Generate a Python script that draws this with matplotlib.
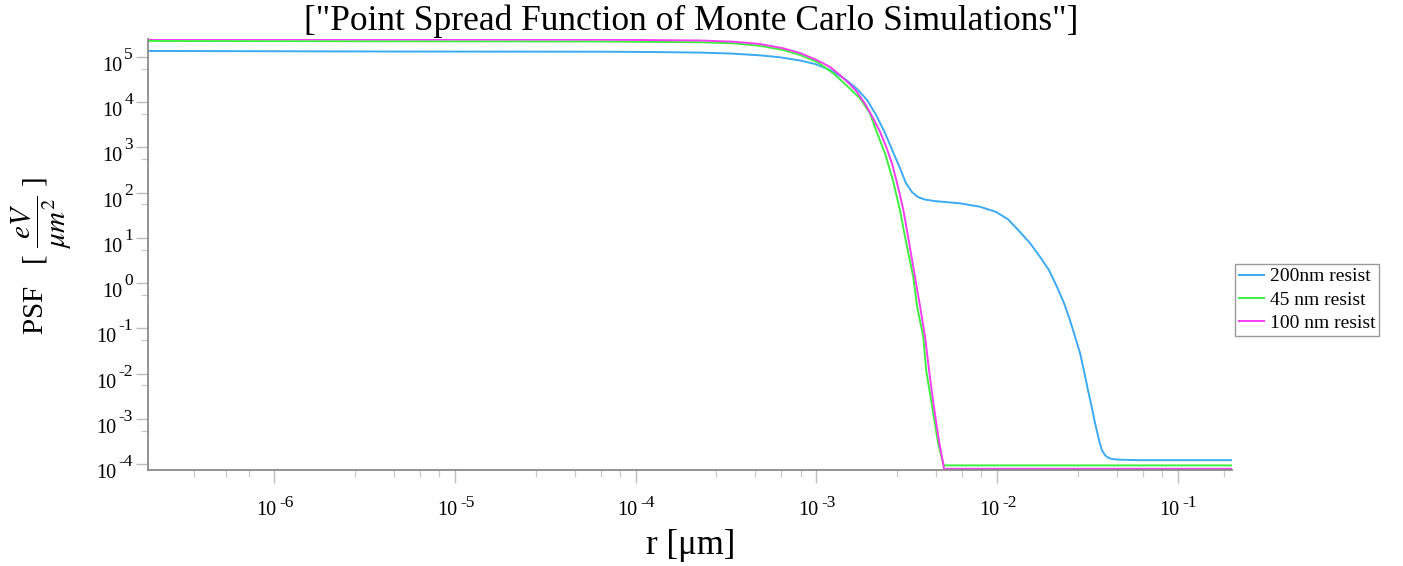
import matplotlib
matplotlib.use("Agg")
import matplotlib.pyplot as plt
import matplotlib.transforms as mtransforms
from matplotlib.ticker import NullFormatter

plt.rcParams['font.family'] = ['Liberation Serif', 'DejaVu Serif']
plt.rcParams['mathtext.fontset'] = 'stix'

# ---------------- data ----------------
r_200 = [2.0e-7, 4.97e-6, 6.35e-5, 1.202e-4, 2.27e-4, 3.327e-4, 4.876e-4, 6.295e-4,
         8.128e-4, 9.85e-4, 1.193e-3, 1.443e-3, 1.683e-3, 1.91e-3, 2.143e-3, 2.402e-3,
         2.66e-3, 2.904e-3, 3.134e-3, 3.388e-3, 3.656e-3, 3.996e-3, 4.54e-3, 6.24e-3,
         8.05e-3, 9.89e-3, 1.151e-2, 1.306e-2, 1.524e-2, 1.730e-2, 1.941e-2, 2.148e-2,
         2.35e-2, 2.535e-2, 2.70e-2, 2.884e-2, 3.034e-2, 3.19e-2, 3.357e-2, 3.49e-2,
         3.673e-2, 3.81e-2, 3.96e-2, 4.12e-2, 4.34e-2, 4.80e-2, 6.19e-2, 0.2]
psf_200 = [1.36e5, 1.32e5, 1.31e5, 1.29e5, 1.251e5, 1.195e5, 1.09e5, 9.84e4,
           8.37e4, 7.0e4, 5.16e4, 3.26e4, 1.96e4, 1.12e4, 5.21e3, 2.08e3,
           792, 350, 163, 103, 80, 70.4, 65.2, 58.2,
           49.0, 37.5, 25.8, 15.2, 7.69, 3.83, 1.945, 0.832,
           0.3625, 0.153, 0.0676, 0.0284, 0.01138, 4.33e-3, 1.73e-3, 8.05e-4,
           3.39e-4, 2.04e-4, 1.58e-4, 1.39e-4, 1.29e-4, 1.25e-4, 1.22e-4, 1.22e-4]

r_45 = [2.0e-7, 6.35e-5, 2.27e-4, 3.46e-4, 4.876e-4, 6.55e-4, 8.128e-4, 1.005e-3,
        1.242e-3, 1.481e-3, 1.746e-3, 1.977e-3, 2.158e-3, 2.419e-3, 2.667e-3, 2.904e-3,
        3.139e-3, 3.44e-3, 3.61e-3, 3.91e-3, 4.055e-3, 4.35e-3, 4.54e-3, 4.73e-3,
        4.932e-3, 5.09e-3, 0.2]
psf_45 = [2.26e5, 2.20e5, 2.115e5, 2.01e5, 1.768e5, 1.43e5, 1.107e5, 7.87e4,
          4.37e4, 2.284e4, 1.22e4, 5.78e3, 2.23e3, 681, 175, 41.4,
          8.11, 1.39, 0.312, 0.0653, 0.01198, 2.2e-3, 7.66e-4, 2.86e-4,
          1.43e-4, 9.35e-5, 9.35e-5]

r_100 = [2.0e-7, 6.35e-5, 2.27e-4, 3.46e-4, 4.876e-4, 6.55e-4, 8.128e-4, 1.005e-3,
         1.193e-3, 1.352e-3, 1.539e-3, 1.675e-3, 1.866e-3, 2.065e-3, 2.257e-3, 2.455e-3,
         2.63e-3, 2.786e-3, 2.904e-3, 3.034e-3, 3.26e-3, 3.516e-3, 3.751e-3, 4.0e-3,
         4.207e-3, 4.45e-3, 4.626e-3, 4.80e-3, 4.963e-3, 5.09e-3, 0.2]
psf_100 = [2.5e5, 2.42e5, 2.317e5, 2.18e5, 1.939e5, 1.56e5, 1.226e5, 8.59e4,
           6.01e4, 4.0e4, 2.466e4, 1.71e4, 9.14e3, 4.41e3, 2.195e3, 957,
           430, 175, 88.7, 41.3, 8.11, 1.39, 0.312, 0.0653,
           0.01198, 2.2e-3, 7.66e-4, 2.86e-4, 1.43e-4, 7.87e-5, 7.87e-5]

series_labels = ["200nm resist", "45 nm resist", "100 nm resist"]
series_colors = ["#3aaaf2", "#3ef03e", "#f53cf0"]

x_major = [1e-6, 1e-5, 1e-4, 1e-3, 1e-2, 1e-1]
x_major_exp = ["-6", "-5", "-4", "-3", "-2", "-1"]
y_major = [1e5, 1e4, 1e3, 1e2, 1e1, 1e0, 1e-1, 1e-2, 1e-3, 1e-4]
y_major_exp = ["5", "4", "3", "2", "1", "0", "-1", "-2", "-3", "-4"]

title_text = '["Point Spread Function of Monte Carlo Simulations"]'
xlabel_text = 'r [\u03bcm]'
ylabel_text = r'PSF   [ $\dfrac{eV}{\mu m^{2}}$ ]'

# ---------------- figure ----------------
W, H = 1403, 566
DPI = 100
fig = plt.figure(figsize=(W / DPI, H / DPI), dpi=DPI)
ax = fig.add_axes([148 / W, 1 - 470 / H, 1084 / W, 431 / H])
ax.set_xscale('log')
ax.set_yscale('log')

lines = []
for rr, pp, lab, col in zip([r_200, r_45, r_100], [psf_200, psf_45, psf_100],
                            series_labels, series_colors):
    ln, = ax.plot(rr, pp, color=col, lw=1.4, label=lab, solid_joinstyle='round')
    lines.append(ln)

ax.set_xlim(2e-7, 0.2)
ax.set_ylim(7.4e-5, 2.5e5)

for s in ['top', 'right']:
    ax.spines[s].set_visible(False)
for s in ['left', 'bottom']:
    ax.spines[s].set_color('#8a8a8a')
    ax.spines[s].set_linewidth(1.3)

# ticks
x_minor = [3.6e-7, 5.4e-7, 7.2e-7]
for n in range(-6, -1):
    for m in [2.8, 4.6, 6.4, 8.2]:
        x_minor.append(m * 10.0 ** n)
x_minor.append(0.18)
y_minor = [5.5 * 10.0 ** n for n in range(-4, 5)]

ax.set_xticks(x_major)
ax.set_xticks(x_minor, minor=True)
ax.set_yticks(y_major)
ax.set_yticks(y_minor, minor=True)
for axis in (ax.xaxis, ax.yaxis):
    axis.set_major_formatter(NullFormatter())
    axis.set_minor_formatter(NullFormatter())
ax.tick_params(which='major', direction='out', length=9, width=1.0, color='#bdbdbd')
ax.tick_params(which='minor', direction='out', length=5, width=0.9, color='#c8c8c8')


def off(dx, dy):
    return mtransforms.ScaledTranslation(dx / DPI, -dy / DPI, fig.dpi_scale_trans)


base_fs = 14.5
exp_fs = 12.5

# x tick labels (10 with raised exponent)
bx = mtransforms.blended_transform_factory(ax.transData, ax.transAxes)
for v, e in zip(x_major, x_major_exp):
    ax.text(v, 0, '10', transform=bx + off(2, 45), ha='right', va='baseline',
            fontsize=base_fs, clip_on=False)
    ax.text(v, 0, e, transform=bx + off(5, 37), ha='left', va='baseline',
            fontsize=exp_fs, clip_on=False)

# y tick labels
renderer = fig.canvas.get_renderer()
by = mtransforms.blended_transform_factory(ax.transAxes, ax.transData)
for v, e in zip(y_major, y_major_exp):
    te = ax.text(0, v, e, transform=by + off(-15, 2), ha='right', va='baseline',
                 fontsize=exp_fs, clip_on=False)
    w = te.get_window_extent(renderer).width
    ax.text(0, v, '10', transform=by + off(-15 - w - 2, 14), ha='right', va='baseline',
            fontsize=base_fs, clip_on=False)

# title and axis labels
fig.text(691 / W, 1 - 30 / H, title_text, ha='center', va='baseline', fontsize=25.5)
fig.text(691 / W, 1 - 554 / H, xlabel_text, ha='center', va='baseline', fontsize=25)
fig.text(42 / W, 1 - 256 / H, ylabel_text, rotation=90, ha='center', va='center', fontsize=21)

# legend
leg = fig.legend(handles=lines, labels=series_labels, loc='center left',
                 bbox_to_anchor=(1235 / W, 1 - 300 / H), frameon=True, fancybox=False,
                 edgecolor='#808080', fontsize=14.0, handlelength=1.3, handletextpad=0.3,
                 borderpad=0.18, labelspacing=0.3, borderaxespad=0)
leg.get_frame().set_linewidth(1.0)

fig.savefig('out.png', dpi=DPI)
